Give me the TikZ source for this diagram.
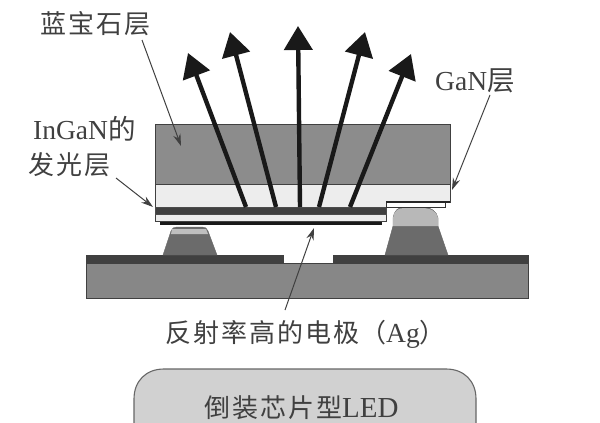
\documentclass[tikz,border=0pt]{standalone}
\usepackage{fontspec}
\setmainfont{Liberation Serif}
\newfontfamily\cjk{Noto Sans CJK SC}
\usetikzlibrary{arrows.meta}
\definecolor{inkc}{gray}{0.25}
\newcommand{\latinbig}{\fontsize{27.5}{30}\selectfont}
\tikzset{
  x=1pt,y=-1pt,
  layer/.style={draw=black!75,line width=0.9pt},
  beam/.style={line width=4.4pt,black!90,-{Triangle[length=24pt,width=28pt]}},
  pointer/.style={draw=black!75,line width=1pt,-{Stealth[length=12pt,width=7.5pt]}},
  label/.style={inner sep=0pt,text=inkc,font=\fontsize{26}{30}\selectfont},
}
\begin{document}
\begin{tikzpicture}
\useasboundingbox (0,0) rectangle (600,423);
% substrate
\filldraw[layer,fill=black!47] (86,263) rectangle (528,298);
\filldraw[layer,fill=black!75] (86,255) -- (283,255) -- (283,263) -- (86,263) -- cycle;
\filldraw[layer,fill=black!75] (333,255) -- (528,255) -- (528,263) -- (333,263) -- cycle;
% left bump
\filldraw[draw=black!60,fill=black!58] (163,255) -- (171,231) .. controls (172,228) and (174,227) .. (177,227) -- (202,227) .. controls (205,227) and (207,228) .. (208,231) -- (217,255) -- cycle;
\fill[black!25] (171,234) -- (172,229) -- (206,229) -- (208,234) -- cycle;
% right bump
\filldraw[draw=black!60,fill=black!58] (385,255) -- (393,226) -- (393,218) .. controls (394,211) and (398,207) .. (404,207) -- (422,207) .. controls (430,207) and (437,211) .. (438,218) -- (438,226) -- (448,255) -- cycle;
\fill[black!28] (393,226) -- (393,218) .. controls (394,211) and (398,208) .. (404,208) -- (422,208) .. controls (430,208) and (437,211) .. (438,218) -- (438,226) -- cycle;
% chip
\filldraw[layer,fill=black!45] (155,124) rectangle (450,184);
\filldraw[layer,fill=black!7] (155,184) -- (450,184) -- (450,202) -- (386,202) -- (386,221) -- (155,221) -- cycle;
\filldraw[draw=black!70,fill=black!75] (155,207) rectangle (386,214);
\fill[black!90] (160,221.5) rectangle (382,225);
\filldraw[draw=black!80,fill=white,line width=0.7pt] (386,202) rectangle (445,207);
\fill[black!85] (386,200.5) rectangle (450,203);
% LED box
\filldraw[draw=black!60,fill=black!18,line width=1.1pt] (134,430) -- (134,399) .. controls (134,381) and (146,369) .. (164,369) -- (446,369) .. controls (464,369) and (476,381) .. (476,399) -- (476,430);
% beams
\coordinate (b1) at (246,207); \coordinate (t1) at (188,53);
\coordinate (b2) at (276,207); \coordinate (t2) at (230,32);
\coordinate (b3) at (300,207); \coordinate (t3) at (298,26);
\coordinate (b4) at (319,207); \coordinate (t4) at (365,32);
\coordinate (b5) at (350,207); \coordinate (t5) at (411,54);
\foreach \i in {1,...,5} \draw[beam] (b\i) -- (t\i);
% labels
\node[label,anchor=west] (sapphire) at (40,24) {\cjk 蓝\hspace{2pt}宝\hspace{2pt}石\hspace{2pt}层};
\node[label,anchor=west] (ingan) at (33,129) {\latinbig InGaN{\cjk 的}};
\node[label,anchor=west] (emit) at (28,165) {\cjk 发\hspace{2pt}光\hspace{2pt}层};
\node[label,anchor=west] (gan) at (435,81) {\latinbig GaN{\cjk 层}};
\node[label,anchor=west] (ag) at (165,334) {\cjk 反\hspace{2pt}射\hspace{2pt}率\hspace{2pt}高\hspace{2pt}的\hspace{2pt}电\hspace{2pt}极\hspace{1pt}（{\rmfamily\latinbig Ag}）};
\node[label,anchor=west] (led) at (204,408) {\cjk 倒\hspace{2pt}装\hspace{2pt}芯\hspace{2pt}片\hspace{2pt}型{\rmfamily\fontsize{29}{30}\selectfont LED}};
% pointers
\coordinate (p1) at (181,146); \coordinate (s1) at (142,40);
\coordinate (p2) at (153,207); \coordinate (s2) at (116,178);
\coordinate (p3) at (452,190); \coordinate (s3) at (490,95);
\coordinate (p4) at (314,228); \coordinate (s4) at (285,310);
\foreach \i in {1,...,4} \draw[pointer] (s\i) -- (p\i);
\end{tikzpicture}
\end{document}
